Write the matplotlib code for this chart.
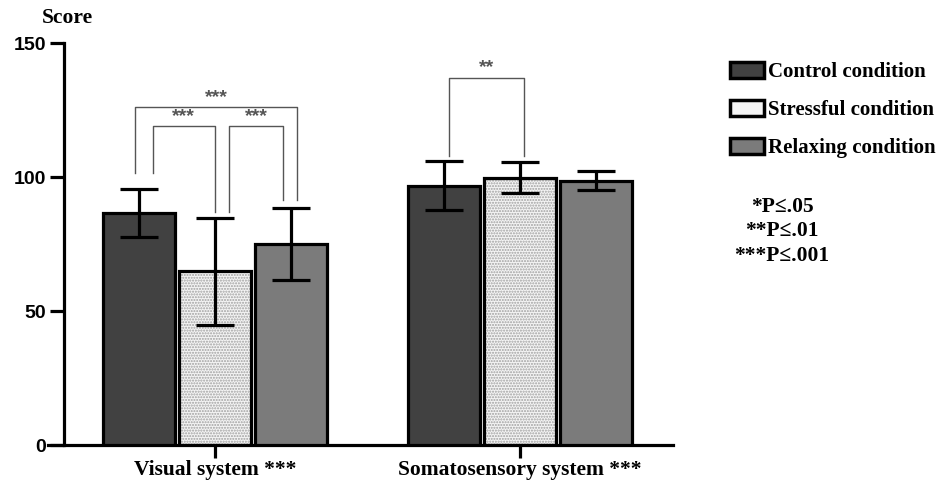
import matplotlib
matplotlib.use("Agg")
import matplotlib.pyplot as plt
import numpy as np

# data
groups = ["Visual system ***", "Somatosensory system ***"]
conditions = ["Control condition", "Stressful condition", "Relaxing condition"]
means = {
    "Control condition": [86.6, 96.8],
    "Stressful condition": [64.8, 99.8],
    "Relaxing condition": [75.0, 98.6],
}
errors = {
    "Control condition": [9.0, 9.0],
    "Stressful condition": [20.0, 5.7],
    "Relaxing condition": [13.6, 3.6],
}
p_notes = ["*P\u2264.05", "**P\u2264.01", "***P\u2264.001"]

colors = {"Control condition": "#414141",
          "Stressful condition": "#f4f4f4",
          "Relaxing condition": "#7b7b7b"}

serif = ["Liberation Serif", "DejaVu Serif"]
sans = ["Liberation Sans", "DejaVu Sans"]

fig = plt.figure(figsize=(9.44, 4.91), dpi=100)
W, H = 944, 491
ax = fig.add_axes([48 / W, (H - 445) / H, (673 - 48) / W, (445 - 43) / H])

x = np.arange(len(groups))
step, width = 0.25, 0.235
lw = 2.3

for i, cond in enumerate(conditions):
    pos = x + (i - 1) * step
    if cond == "Stressful condition":
        # speckled fill: hatch in grey, then black outline on top
        ax.bar(pos, means[cond], width, color=colors[cond], edgecolor="#a0a0a0",
               hatch="......", linewidth=0, zorder=2)
        ax.bar(pos, means[cond], width, fill=False, edgecolor="black",
               linewidth=lw, zorder=3, label=cond)
    else:
        ax.bar(pos, means[cond], width, color=colors[cond], edgecolor="black",
               linewidth=lw, zorder=3, label=cond)
    ax.errorbar(pos, means[cond], yerr=errors[cond], fmt="none", ecolor="black",
                elinewidth=lw, capsize=14, capthick=lw, zorder=4)

# significance brackets (data units)
def bracket(x1, x2, y1, y2, top, text):
    ax.plot([x1, x1, x2, x2], [y1, top, top, y2], color="#555555", lw=1.0,
            zorder=5, clip_on=False)
    ax.text((x1 + x2) / 2, top + 0.5, text, ha="center", va="bottom",
            color="#555555", fontsize=14, fontweight="bold", family=sans)

c0 = x[0] + np.array([-step, 0, step])
c1 = x[1] + np.array([-step, 0, step])
bracket(c0[0] - 0.013, c0[2] + 0.02, 101.5, 91.5, 126, "***")
bracket(c0[0] + 0.046, c0[1], 101.5, 87, 119, "***")
bracket(c0[1] + 0.046, c0[2] - 0.026, 87, 91.5, 119, "***")
bracket(c1[0] + 0.016, c1[1] + 0.013, 108, 108, 137, "**")

for s in ["top", "right"]:
    ax.spines[s].set_visible(False)
# moving the spine resets ticks, so do it before styling them
ax.spines["left"].set_position(("axes", 16 / 625))
ax.spines["left"].set_linewidth(lw)
ax.spines["bottom"].set_linewidth(lw)

ax.set_xlim(-0.5475, 1.502)
ax.set_ylim(0, 150)
ax.set_yticks([0, 50, 100, 150])
ax.set_yticklabels(["0", "50", "100", "150"], family=sans, fontweight="bold",
                   fontsize=14)
ax.set_xticks(x)
ax.set_xticklabels(groups, family=serif, fontweight="bold", fontsize=15.5)
ax.tick_params(axis="y", length=10, width=lw, pad=3)
ax.tick_params(axis="x", length=9, width=lw, pad=2)

fig.text(42 / W, 1 - 18 / H, "Score", family=serif, fontweight="bold",
         fontsize=15.5, ha="left", va="center")

leg = fig.legend(loc="upper left", bbox_to_anchor=(711 / W, 1 - 43 / H),
                 frameon=False, prop={"family": serif, "weight": "bold", "size": 15},
                 handlelength=1.65, handleheight=0.8, handletextpad=0.2,
                 labelspacing=0.85)
handles = leg.legend_handles
handles[1].set_facecolor(colors["Stressful condition"])
handles[1].set_fill(True)
for h in handles:
    h.set_linewidth(2.5)

for k, note in enumerate(p_notes):
    fig.text(782 / W, 1 - (207 + k * 24.5) / H, note, family=serif,
             fontweight="bold", fontsize=15.5, ha="center", va="center")

fig.savefig("out.png", dpi=100)
